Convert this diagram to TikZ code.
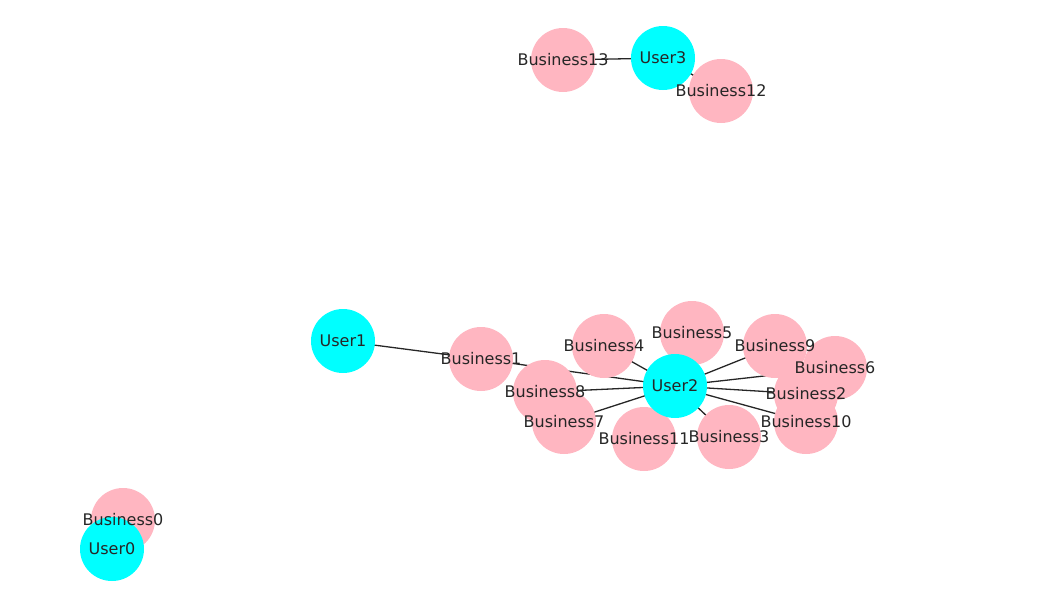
\documentclass[tikz,border=0pt]{standalone}
\usepackage{fontspec}
\setmainfont{DejaVu Sans}
\definecolor{ucol}{HTML}{00FFFF}
\definecolor{bcol}{HTML}{FFB6C1}
\begin{document}
\begin{tikzpicture}[x=1pt,y=-1pt,
  nd/.style={circle,minimum size=64pt,inner sep=0pt,font=\fontsize{16}{16}\selectfont},
  usr/.style={nd,fill=ucol},
  bus/.style={nd,fill=bcol},
  lbl/.style={font=\fontsize{16}{16}\selectfont,text=black!85},
  ed/.style={draw=black!85,line width=1.3pt}]
\useasboundingbox (0,0) rectangle (1038,608);
\foreach \n/\x/\y in {User3/663/58,Business13/563/60,Business12/721/91,User1/343/341,Business1/481/359,User2/675/386,Business4/604/346,Business5/692/333,Business9/775/346,Business6/835/368,Business2/806/394,Business10/806/422,Business3/729/437,Business11/644/439,Business7/564/422,Business8/545/392,Business0/123/520,User0/112/549}
  \coordinate (\n) at (\x,\y);
\draw[ed] (User3)--(Business13) (User3)--(Business12) (User1)--(Business1) (User0)--(Business0);
\foreach \b in {1,...,11} \draw[ed] (User2)--(Business\b);
\foreach \n in {Business13,Business12,Business1,Business4,Business5,Business9,Business6,Business2,Business10,Business3,Business11,Business7,Business8,Business0}
  \node[bus] (c\n) at (\n) {};
\foreach \n in {User3,User1,User2,User0}
  \node[usr] (c\n) at (\n) {};
\foreach \n in {User3,Business13,Business12,User1,Business1,User2,Business4,Business5,Business9,Business6,Business2,Business10,Business3,Business11,Business7,Business8,Business0,User0}
  \node[lbl] (t\n) at (\n) {\n};
\end{tikzpicture}
\end{document}
